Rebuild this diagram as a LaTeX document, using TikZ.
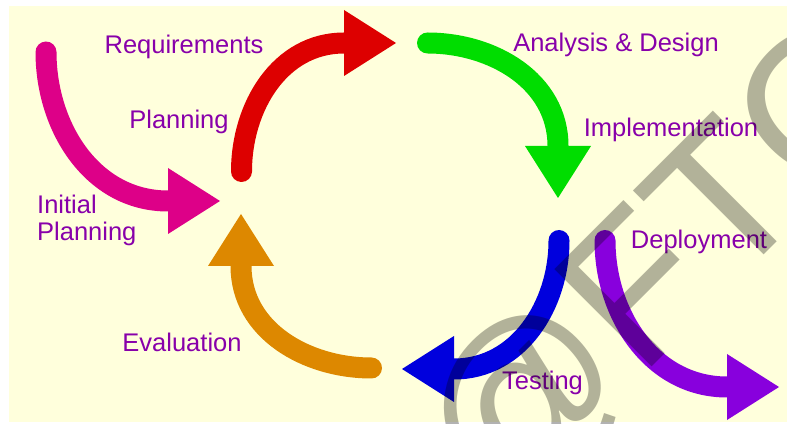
\documentclass[tikz,border=0pt]{standalone}
\usepackage{fontspec}
\setmainfont{Liberation Sans}
\usetikzlibrary{arrows.meta}
\definecolor{bgyellow}{RGB}{255,255,220}
\definecolor{lblpurple}{RGB}{136,0,170}
\definecolor{cmagenta}{RGB}{221,0,136}
\definecolor{cred}{RGB}{221,0,0}
\definecolor{cgreen}{RGB}{0,221,0}
\definecolor{cblue}{RGB}{0,0,221}
\definecolor{corange}{RGB}{221,136,0}
\definecolor{cviolet}{RGB}{136,0,221}
\tikzset{flow/.style={line width=21pt,line cap=round,shorten >=-52pt,
           -{Triangle[length=52pt,width=66pt,line width=0pt]}},
	 lbl/.style={text=lblpurple,inner sep=0pt,anchor=base,
	   font=\fontsize{25.5}{27}\selectfont},
	 wmark/.style={text=black,text opacity=0.3,inner sep=0pt,rotate=45,
	   anchor=base west,font=\fontsize{200}{200}\selectfont}
	 }
\begin{document}
\begin{tikzpicture}[x=1pt,y=1pt]
      \useasboundingbox (0,0) rectangle (787,423);
      \clip (0,0) rectangle (787,423);
      \fill[bgyellow] (9,1) rectangle (787,417);
      \draw[flow,cmagenta] (46,371) to[out=-90,in=180] (168,222);
      \draw[flow,cred] (241.5,251.5) to[out=90,in=180] (344,380);
      \draw[flow,cgreen] (427.5,380) to[out=0,in=90] (558,277);
      \draw[flow,cblue] (559,182.5) to[out=-90,in=0] (454,54);
      \draw[flow,corange] (371.5,55) to[out=180,in=-90] (241,157);
      \draw[flow,cviolet] (605,182.5) to[out=-90,in=180] (727,36);
      \node[lbl] (req) at (184,369.7) {Requirements};
      \node[lbl] (plan) at (179,294) {Planning};
      \node[lbl,anchor=west,align=left] (init) at (37,203) {Initial\\Planning};
      \node[lbl] (anl) at (616,371.3) {Analysis \& Design};
      \node[lbl] (impl) at (671,286.3) {Implementation};
      \node[lbl] (depl) at (699,174.7) {Deployment};
      \node[lbl] (test) at (542.5,33.7) {Testing};
      \node[lbl] (eval) at (182,71.3) {Evaluation};
      \node[wmark] (wm) at (497,-99) {@FTC};
\end{tikzpicture}
\end{document}
